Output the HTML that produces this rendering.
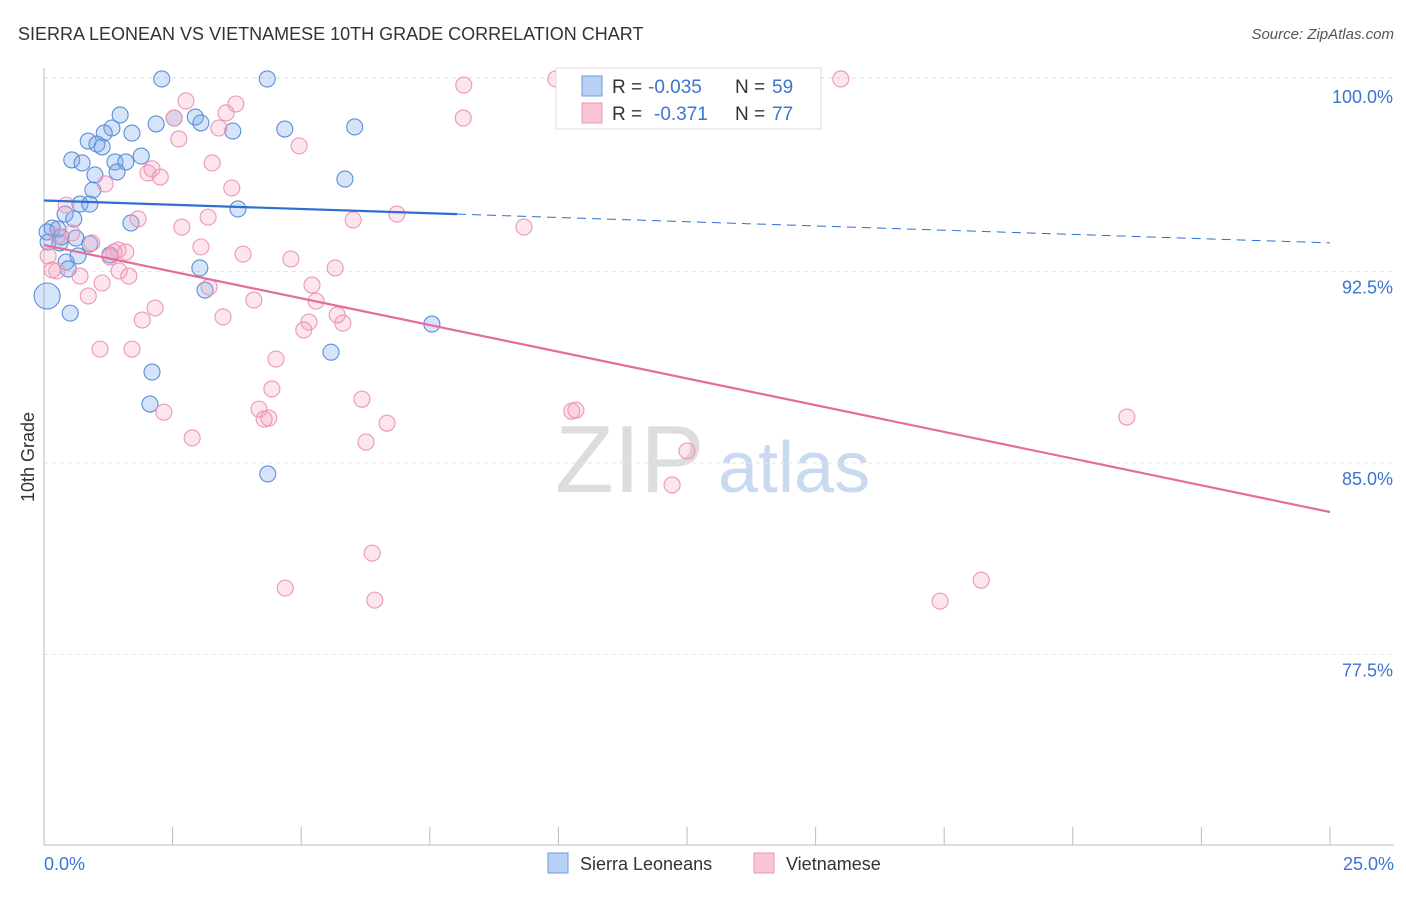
<!DOCTYPE html>
<html><head><meta charset="utf-8"><style>
body{margin:0;background:#fff;font-family:"Liberation Sans",sans-serif}
svg text{font-family:"Liberation Sans",sans-serif}
</style></head><body>
<svg id="chart" width="1406" height="892" xmlns="http://www.w3.org/2000/svg">
<text x="18" y="40" font-size="18" fill="#333">SIERRA LEONEAN VS VIETNAMESE 10TH GRADE CORRELATION CHART</text>
<text x="1394" y="39" font-size="15" fill="#555" text-anchor="end" font-style="italic">Source: ZipAtlas.com</text>
<text transform="translate(34,457) rotate(-90)" font-size="18" fill="#333" text-anchor="middle">10th Grade</text>
<g>
<text x="555" y="492" font-size="96" fill="#ddd" font-family="Liberation Serif,serif">ZIP</text>
<text x="718" y="492" font-size="72" fill="#c9d9ef">atlas</text>
</g>
<g id="grid"></g><g id="axes"></g><g id="pts"></g><g id="lines"></g>
<g>
<rect x="556" y="68" width="265" height="61" fill="#fff" stroke="#ddd"/>
<rect x="582" y="76" width="20" height="20" fill="#b8d0f3" stroke="#6d9be0"/>
<rect x="582" y="103" width="20" height="20" fill="#f9c5d6" stroke="#ea95b3"/>
<text x="612" y="93" font-size="19" fill="#333">R =</text>
<text x="648" y="93" font-size="19" fill="#3b74d1">-0.035</text>
<text x="735" y="93" font-size="19" fill="#333">N =</text>
<text x="772" y="93" font-size="19" fill="#3b74d1">59</text>
<text x="612" y="120" font-size="19" fill="#333">R =</text>
<text x="654" y="120" font-size="19" fill="#3b74d1">-0.371</text>
<text x="735" y="120" font-size="19" fill="#333">N =</text>
<text x="772" y="120" font-size="19" fill="#3b74d1">77</text>
</g>
<g>
<rect x="548" y="853" width="20" height="20" fill="#b8d0f3" stroke="#6d9be0"/>
<text x="580" y="870" font-size="18" fill="#333">Sierra Leoneans</text>
<rect x="754" y="853" width="20" height="20" fill="#f9c5d6" stroke="#ea95b3"/>
<text x="786" y="870" font-size="18" fill="#333">Vietnamese</text>
</g>
</svg>
<script>
const blueX=[2.29,4.34,1.48,2.94,2.18,2.53,3.05,3.67,4.68,6.04,1.32,1.71,1.17,0.86,1.03,1.13,1.89,0.54,0.74,1.38,1.59,1.42,0.99,5.85,0.95,0.70,0.89,0.41,0.58,3.77,1.69,0.16,0.27,0.06,0.33,0.62,0.08,0.31,0.89,0.66,1.28,0.43,0.47,3.03,3.13,0.06,0.51,7.54,5.58,2.10,2.06,4.35];
const blueY=[100.04,100.04,98.63,98.55,98.28,98.51,98.32,98.00,98.08,98.16,98.12,97.92,97.92,97.61,97.49,97.38,97.02,96.87,96.75,96.79,96.79,96.40,96.28,96.12,95.69,95.14,95.14,94.75,94.56,94.95,94.40,94.20,94.16,94.05,93.85,93.81,93.65,93.62,93.58,93.11,93.15,92.87,92.60,92.64,91.77,91.54,90.87,90.44,89.34,88.56,87.31,84.57];
const pinkX=[8.16,9.95,15.49,2.76,3.73,2.53,3.54,8.15,3.40,2.62,4.96,3.27,2.10,2.02,2.26,1.19,3.65,0.43,6.86,6.01,1.83,3.19,2.68,9.33,0.54,0.27,0.93,3.05,1.44,1.36,1.59,3.87,1.28,4.80,5.66,0.25,0.70,1.46,1.65,5.21,1.13,3.21,0.86,4.08,5.29,2.16,3.48,1.91,5.15,5.70,5.81,5.05,1.09,1.71,4.51,4.43,6.18,2.33,4.18,10.26,10.34,4.37,4.28,6.67,2.88,6.26,12.50,21.05,12.21,6.38,4.69,6.43,18.22,17.42,0.08,0.16];
const pinkY=[99.80,100.04,100.04,99.18,99.06,98.51,98.71,98.51,98.12,97.69,97.42,96.75,96.52,96.36,96.20,95.93,95.77,95.10,94.75,94.52,94.56,94.63,94.24,94.24,94.01,93.89,93.62,93.46,93.34,93.26,93.26,93.18,93.07,92.99,92.64,92.52,92.32,92.52,92.32,91.97,92.05,91.89,91.54,91.38,91.34,91.07,90.72,90.60,90.52,90.80,90.48,90.21,89.46,89.46,89.07,87.90,87.50,86.99,87.11,87.03,87.07,86.76,86.72,86.56,85.98,85.82,85.47,86.80,84.14,81.47,80.10,79.63,80.41,79.59,93.11,92.56];
const yTicks=[100,92.5,85,77.5];
const yTickLabels=["100.0%","92.5%","85.0%","77.5%"];
const xTicks=[0,2.5,5,7.5,10,12.5,15,17.5,20,22.5,25];
const blueTrend=[95.28,93.62];
const pinkTrend=[93.54,83.08];
const blueSolidEnd=8.03;

const NS="http://www.w3.org/2000/svg";
const sx=v=>44+v/25*1286;
const sy=v=>80+(100-v)/7.5*191.5;
function mk(tag,attrs,parent){const e=document.createElementNS(NS,tag);for(const k in attrs)e.setAttribute(k,attrs[k]);document.getElementById(parent).appendChild(e);return e;}
mk('line',{x1:44,x2:1394,y1:sy(100)-2,y2:sy(100)-2,stroke:'#ddd','stroke-dasharray':'4,4'},'grid');
yTicks.forEach((t,i)=>{
  if(i>0){const g=mk('line',{x1:44,x2:1394,y1:sy(t),y2:sy(t),stroke:'#e6e6e6','stroke-dasharray':'4,4'},'grid');
  
  }
  const l=mk('text',{x:1393,y:sy(t)+(i==0?23:22),'font-size':18,fill:'#3b74d1','text-anchor':'end'},'axes');
  l.textContent=yTickLabels[i];
  
  
});
mk('line',{x1:44,x2:44,y1:68,y2:845,stroke:'#bbb'},'axes');
mk('line',{x1:44,x2:1394,y1:845,y2:845,stroke:'#bbb'},'axes');
xTicks.forEach(t=>{const k=mk('line',{x1:sx(t),x2:sx(t),y1:827,y2:845,stroke:'#bbb'},'axes');

});
const x0=mk('text',{x:44,y:870,'font-size':18,fill:'#3b74d1'},'axes');x0.textContent='0.0%';


const x1=mk('text',{x:1394,y:870,'font-size':18,fill:'#3b74d1','text-anchor':'end'},'axes');x1.textContent='25.0%';


blueX.forEach((v,i)=>{const r=(i==45)?13:8;const c=mk('circle',{cx:sx(v),cy:sy(blueY[i]),r:r,fill:'rgba(120,165,235,0.3)',stroke:'#5b8fd6','stroke-width':1.1},'pts');

});
pinkX.forEach((v,i)=>{const c=mk('circle',{cx:sx(v),cy:sy(pinkY[i]),r:8,fill:'rgba(245,160,190,0.28)',stroke:'#eb97b5','stroke-width':1.1},'pts');

});
const bAt=x=>blueTrend[0]+(blueTrend[1]-blueTrend[0])*x/25;
const b1=mk('line',{x1:sx(0),y1:sy(bAt(0)),x2:sx(blueSolidEnd),y2:sy(bAt(blueSolidEnd)),stroke:'#2f6fd0','stroke-width':2.2},'lines');


const b2=mk('line',{x1:sx(blueSolidEnd),y1:sy(bAt(blueSolidEnd)),x2:sx(25),y2:sy(bAt(25)),stroke:'#2f6fd0','stroke-width':1,'stroke-dasharray':'9,6'},'lines');


const p1=mk('line',{x1:sx(0),y1:sy(pinkTrend[0]),x2:sx(25),y2:sy(pinkTrend[1]),stroke:'#e56b9a','stroke-width':2.2},'lines');


</script>
</body></html>
